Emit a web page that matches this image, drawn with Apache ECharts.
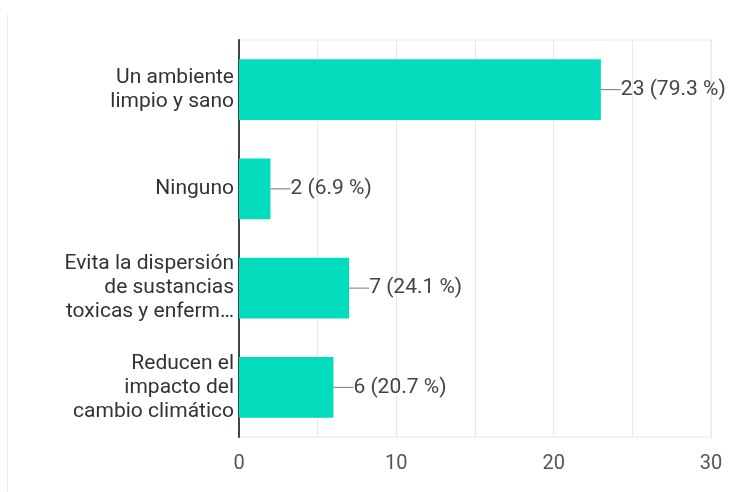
<!DOCTYPE html>
<html>
<head>
<meta charset="utf-8">
<script src="https://cdn.jsdelivr.net/npm/echarts@6/dist/echarts.min.js"></script>
<style>
  html, body { margin: 0; padding: 0; background: #fff; }
  #chart { width: 731px; height: 492px; }
</style>
</head>
<body>
<div id="chart"></div>
<script>
  // respuestas (selección múltiple)
  const categories = [
    'Un ambiente\nlimpio y sano',
    'Ninguno',
    'Evita la dispersión\nde sustancias\ntoxicas y enferm…',
    'Reducen el\nimpacto del\ncambio climático'
  ];
  const counts = [23, 2, 7, 6];
  const respondents = 29;
  const xTicks = [0, 10, 20, 30];

  const chart = echarts.init(document.getElementById('chart'));

  chart.setOption({
    animation: false,
    textStyle: { fontFamily: 'Roboto' },
    graphic: [{
      type: 'line',
      shape: { x1: 7.5, y1: 14, x2: 7.5, y2: 492 },
      style: { stroke: '#ececec', lineWidth: 1 }
    }],
    grid: {
      left: 239, right: 20, top: 40, bottom: 55,
      show: true,
      borderColor: '#e8e8e8',
      borderWidth: 1
    },
    xAxis: {
      type: 'value',
      min: 0,
      max: 30,
      interval: 5,
      axisLine: { show: false },
      axisTick: { show: false },
      axisLabel: {
        color: '#555',
        fontSize: 20,
        margin: 17,
        formatter: v => xTicks.includes(v) ? String(v) : ''
      },
      splitLine: { lineStyle: { color: '#e8e8e8', width: 1 } }
    },
    yAxis: {
      type: 'category',
      inverse: true,
      data: categories,
      axisLine: { lineStyle: { color: '#444', width: 2 } },
      axisTick: { show: false },
      axisLabel: {
        color: '#333',
        fontSize: 21,
        lineHeight: 24,
        margin: 5,
        align: 'right'
      }
    },
    series: [{
      type: 'bar',
      data: counts,
      barWidth: '61%',
      itemStyle: { color: '#02dcbd' },
      label: {
        show: true,
        position: 'right',
        distance: 0,
        color: '#444',
        fontSize: 21,
        formatter: p => '{l|}' + p.value + ' (' + (p.value / respondents * 100).toFixed(1) + ' %)',
        rich: {
          l: { width: 20, height: 1, backgroundColor: '#777', padding: 0 }
        }
      }
    }]
  });
</script>
</body>
</html>
